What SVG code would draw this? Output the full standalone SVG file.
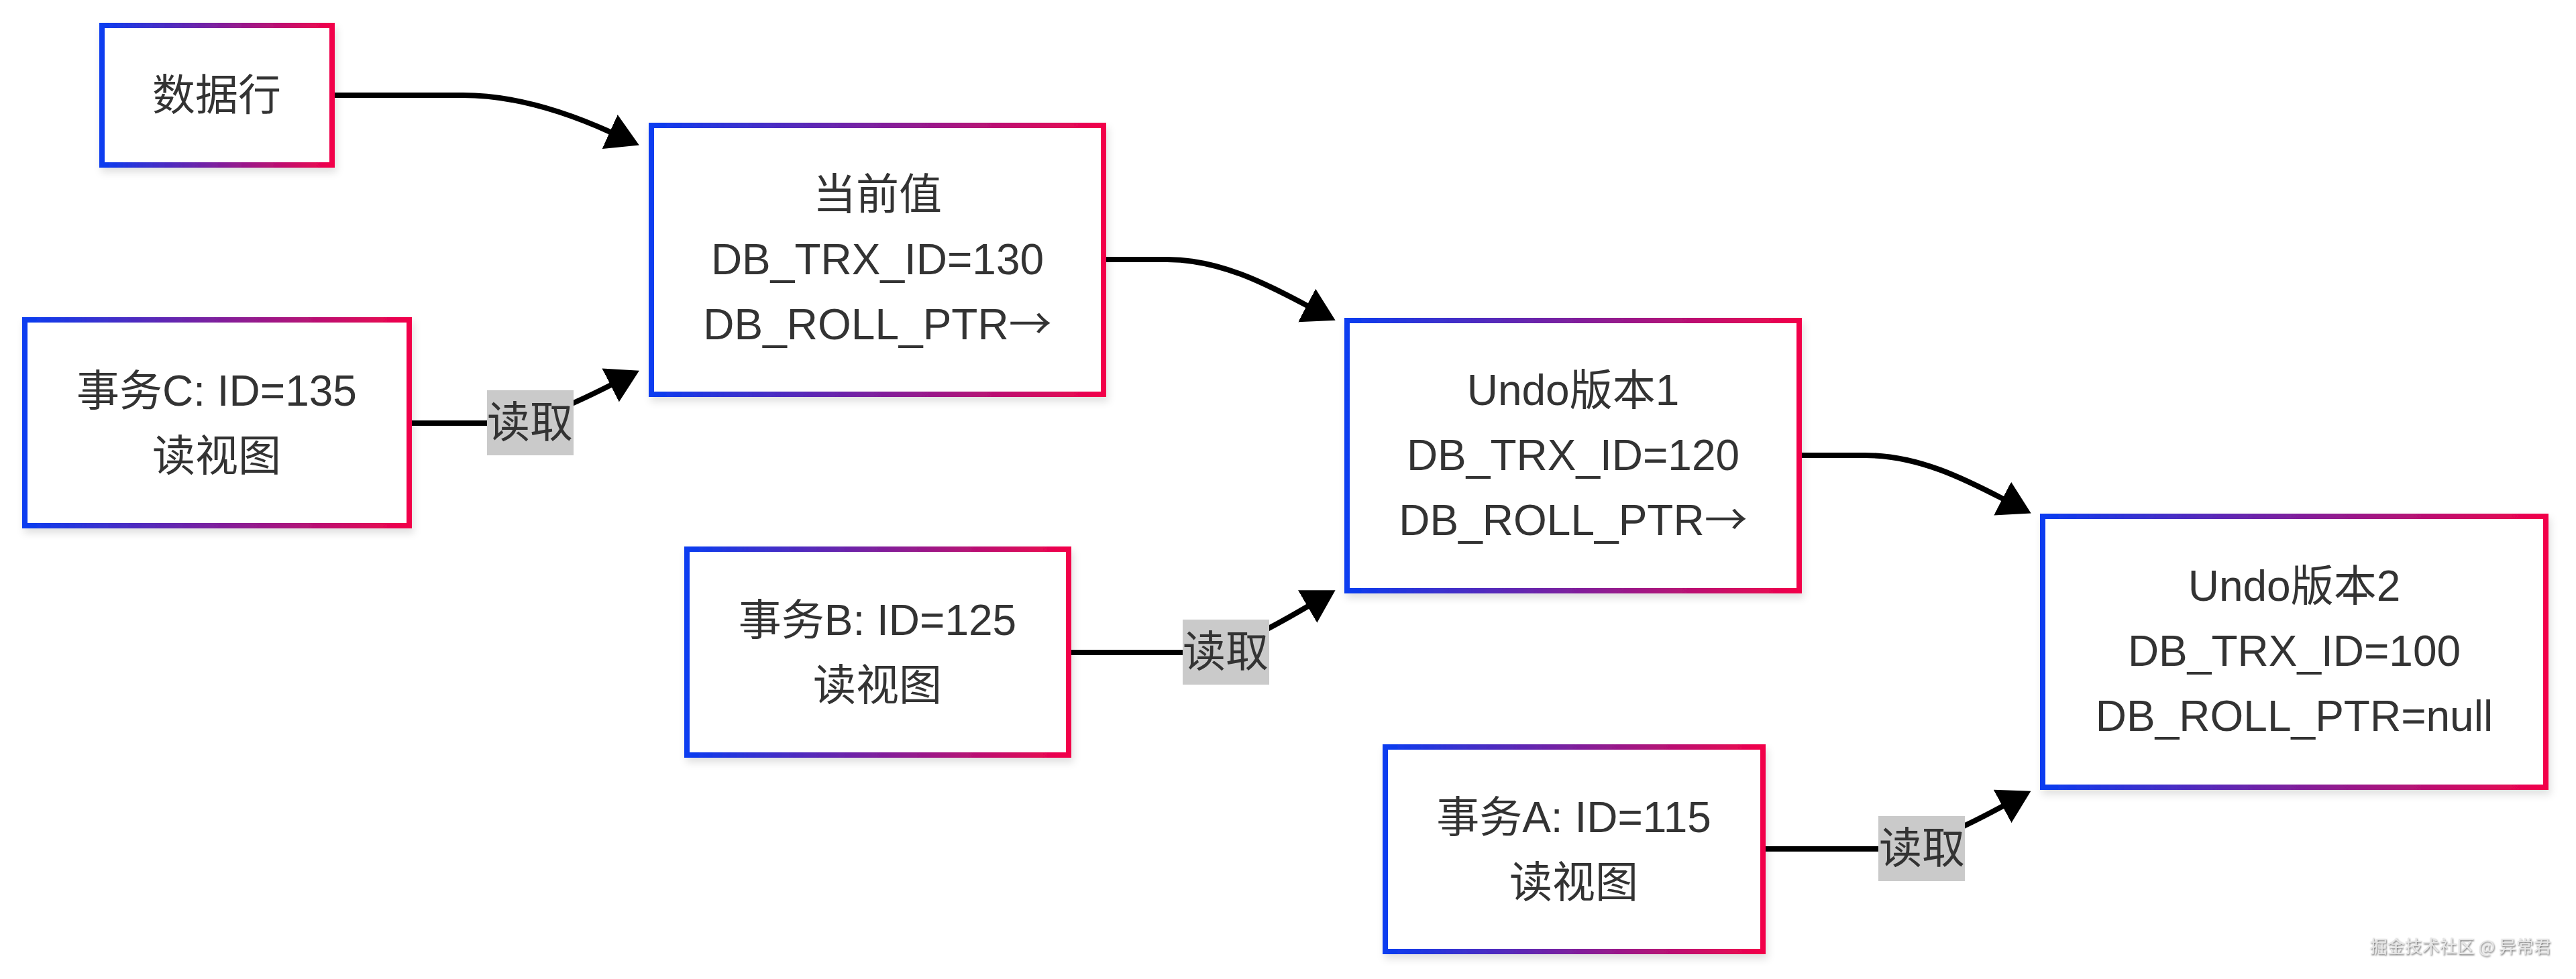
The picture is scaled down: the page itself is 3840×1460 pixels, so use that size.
<svg xmlns="http://www.w3.org/2000/svg" width="3840" height="1460" viewBox="0 0 3840 1460">
<style>
.box{fill:#ffffff;stroke:url(#grad);stroke-width:8;filter:url(#shadow);}
.t{font-family:"Liberation Sans","Noto Sans CJK SC",sans-serif;font-size:64px;fill:#333333;text-anchor:middle;}
.ar{font-family:"Noto Sans CJK SC",sans-serif;}
.edge{fill:none;stroke:#000000;stroke-width:8;marker-end:url(#arrow);}
.lblbg{fill:#cacaca;}
.wm{font-family:"Noto Sans CJK SC","Liberation Sans",sans-serif;font-size:26px;fill:#e6e6e6;text-anchor:end;filter:url(#wmshadow);}
</style>
<defs>
<linearGradient id="grad" x1="0" y1="0" x2="1" y2="0">
<stop offset="0" stop-color="#0a3cf0"/>
<stop offset="1" stop-color="#f2034a"/>
</linearGradient>
<filter id="shadow" x="-10%" y="-10%" width="120%" height="125%">
<feDropShadow dx="3" dy="7" stdDeviation="6" flood-color="#000000" flood-opacity="0.12"/>
</filter>
<filter id="wmshadow" x="-5%" y="-30%" width="110%" height="160%">
<feDropShadow dx="1" dy="1.5" stdDeviation="0.8" flood-color="#555555" flood-opacity="0.9"/>
</filter>
<marker id="arrow" markerUnits="userSpaceOnUse" viewBox="0 0 48 56" markerWidth="48" markerHeight="56" refX="1" refY="28" orient="auto">
<path d="M0,0 L48,28 L0,56 z" fill="#000000"/>
</marker>
</defs>
<rect width="3840" height="1460" fill="#ffffff"/>

<g id="connectors">
<path class="edge" d="M499,142 L690,142 C770,142 846,168 910,197"/>
<path class="edge" d="M1649,387 L1740,387 C1820,387 1890,425 1949,456"/>
<path class="edge" d="M2686,679 L2780,679 C2860,679 2930,715 2986,744"/>
<path class="edge" d="M614,631 L740,631 C790,631 840,610 911,574"/>
<path class="edge" d="M1597,973 L1770,973 C1830,973 1880,945 1950,904"/>
<path class="edge" d="M2632,1266 L2800,1266 C2860,1266 2910,1243 2986,1202"/>
<g id="label-c">
<rect class="lblbg" x="726" y="582" width="129" height="97"/>
<text class="t" x="790" y="652">读取</text>
</g>
<g id="label-b">
<rect class="lblbg" x="1763" y="924" width="129" height="97"/>
<text class="t" x="1827" y="994">读取</text>
</g>
<g id="label-a">
<rect class="lblbg" x="2800" y="1217" width="129" height="97"/>
<text class="t" x="2865" y="1287">读取</text>
</g>
</g>

<g id="node-row">
<rect class="box" x="152" y="38" width="343" height="208"/>
<text class="t" x="323" y="164">数据行</text>
</g>

<g id="node-current">
<rect class="box" x="971" y="187" width="674" height="401"/>
<text class="t" x="1308" y="312">当前值</text>
<text class="t" x="1308" y="409">DB_TRX_ID=130</text>
<text class="t" x="1308" y="506">DB_ROLL_PTR<tspan class="ar">→</tspan></text>
</g>

<g id="node-txc">
<rect class="box" x="37" y="477" width="573" height="307"/>
<text class="t" x="323" y="605">事务C: ID=135</text>
<text class="t" x="323" y="702">读视图</text>
</g>

<g id="node-undo1">
<rect class="box" x="2008" y="478" width="674" height="403"/>
<text class="t" x="2345" y="604">Undo版本1</text>
<text class="t" x="2345" y="701">DB_TRX_ID=120</text>
<text class="t" x="2345" y="798">DB_ROLL_PTR<tspan class="ar">→</tspan></text>
</g>

<g id="node-txb">
<rect class="box" x="1024" y="819" width="569" height="307"/>
<text class="t" x="1308" y="947">事务B: ID=125</text>
<text class="t" x="1308" y="1044">读视图</text>
</g>

<g id="node-undo2">
<rect class="box" x="3045" y="770" width="750" height="404"/>
<text class="t" x="3420" y="896">Undo版本2</text>
<text class="t" x="3420" y="993">DB_TRX_ID=100</text>
<text class="t" x="3420" y="1090">DB_ROLL_PTR=null</text>
</g>

<g id="node-txa">
<rect class="box" x="2065" y="1114" width="563" height="305"/>
<text class="t" x="2346" y="1241">事务A: ID=115</text>
<text class="t" x="2346" y="1338">读视图</text>
</g>

<text class="wm" x="3803" y="1421">掘金技术社区 @ 异常君</text>
</svg>
